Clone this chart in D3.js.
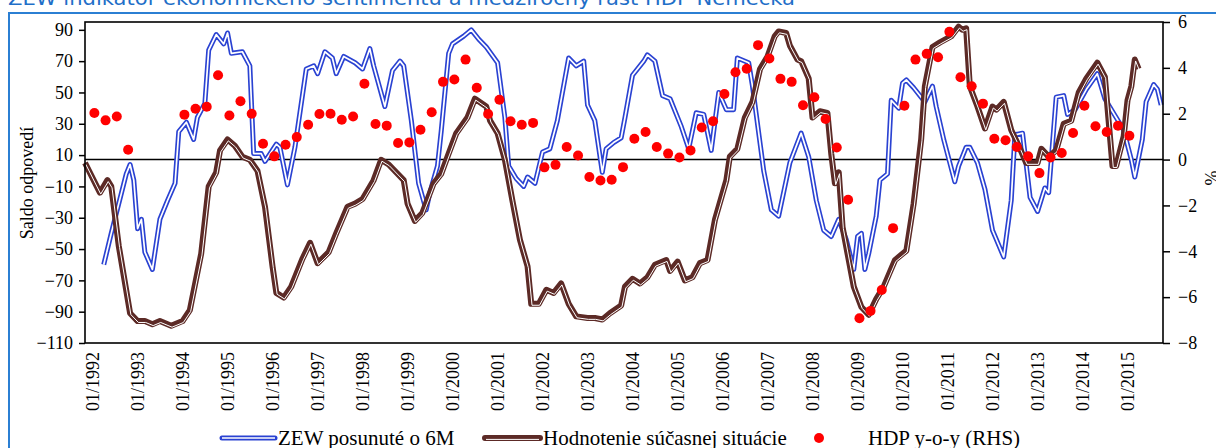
<!DOCTYPE html>
<html><head><meta charset="utf-8">
<script src="https://cdn.jsdelivr.net/npm/d3@7"></script>
<style>html,body{margin:0;padding:0;background:#fff;overflow:hidden}</style>
</head><body><svg id="c" width="1216" height="448"></svg>
<script>
// ---- data ----
const zewDates = ["1992-04","1992-06","1992-10","1992-11","1992-12","1993-01","1993-02","1993-03","1993-05","1993-07","1993-09","1993-11","1993-12","1994-02","1994-04","1994-05","1994-07","1994-08","1994-10","1994-12","1995-01","1995-02","1995-05","1995-07","1995-08","1995-10","1995-11","1996-02","1996-03","1996-05","1996-07","1996-10","1996-12","1997-01","1997-03","1997-05","1997-06","1997-08","1997-11","1998-01","1998-03","1998-04","1998-07","1998-09","1998-11","1998-12","1999-02","1999-04","1999-06","1999-07","1999-09","1999-10","1999-12","2000-01","2000-04","2000-06","2000-08","2000-10","2001-01","2001-03","2001-04","2001-06","2001-08","2001-09","2001-11","2002-01","2002-03","2002-05","2002-08","2002-10","2002-12","2003-01","2003-03","2003-05","2003-06","2003-08","2003-10","2003-11","2004-01","2004-04","2004-05","2004-07","2004-09","2004-11","2005-02","2005-04","2005-06","2005-08","2005-10","2005-12","2006-02","2006-04","2006-05","2006-08","2006-09","2006-12","2007-02","2007-04","2007-07","2007-10","2007-12","2008-02","2008-04","2008-06","2008-08","2008-10","2008-12","2009-01","2009-02","2009-03","2009-04","2009-06","2009-07","2009-09","2009-10","2009-12","2010-01","2010-02","2010-04","2010-07","2010-09","2010-10","2010-12","2011-03","2011-04","2011-06","2011-07","2011-09","2011-11","2012-01","2012-04","2012-06","2012-07","2012-09","2012-11","2013-01","2013-03","2013-04","2013-06","2013-08","2013-09","2013-11","2014-02","2014-05","2014-07","2014-10","2014-12","2015-02","2015-03","2015-05","2015-06","2015-08","2015-09","2015-10"];
const zewValues = [-60,-40,-2,4,-6,-37,-31,-52,-63,-31,-19,-8,25,31,20,34,43,77,87,81,88,75,76,67,11,11,6,17,15,-9,15,65,67,62,76,72,62,73,69,65,78,67,41,64,70,67,32,-8,-25,-14,3,25,75,81,86,90,84,79,69,34,3,-5,-10,-4,-8,12,14,32,72,67,70,42,32,-1,14,18,21,34,61,70,74,70,48,46,28,14,37,36,13,50,39,39,72,69,54,0,-25,-29,5,24,9,-19,-38,-42,-31,-44,-63,-42,-40,-63,-53,-29,-6,-2,45,40,56,58,53,44,54,41,20,-7,3,15,15,5,-12,-38,-55,-19,23,24,-17,-26,-11,-14,47,48,36,39,52,62,46,34,26,7,-4,20,44,55,52,42];

const currDates = ["1991-11","1992-03","1992-05","1992-06","1992-08","1992-11","1993-01","1993-03","1993-05","1993-07","1993-10","1994-01","1994-03","1994-06","1994-08","1994-10","1994-11","1995-01","1995-03","1995-05","1995-07","1995-09","1995-11","1996-01","1996-02","1996-04","1996-06","1996-09","1996-11","1997-01","1997-04","1997-06","1997-09","1997-11","1998-01","1998-04","1998-06","1998-08","1998-12","1999-01","1999-03","1999-05","1999-08","1999-10","1999-12","2000-02","2000-05","2000-07","2000-10","2000-11","2001-01","2001-03","2001-05","2001-07","2001-09","2001-10","2001-12","2002-02","2002-04","2002-06","2002-08","2002-10","2003-01","2003-03","2003-05","2003-07","2003-10","2003-11","2004-01","2004-03","2004-05","2004-07","2004-10","2004-11","2005-01","2005-03","2005-05","2005-07","2005-09","2005-11","2006-02","2006-03","2006-05","2006-07","2006-09","2006-11","2007-01","2007-03","2007-04","2007-06","2007-07","2007-09","2007-10","2007-12","2008-01","2008-03","2008-05","2008-06","2008-07","2008-08","2008-09","2008-12","2009-02","2009-04","2009-06","2009-08","2009-11","2010-02","2010-04","2010-06","2010-07","2010-09","2010-11","2011-02","2011-04","2011-05","2011-06","2011-07","2011-09","2011-11","2012-01","2012-02","2012-04","2012-06","2012-08","2012-10","2013-01","2013-02","2013-04","2013-06","2013-08","2013-10","2013-12","2014-02","2014-05","2014-07","2014-09","2014-10","2014-12","2015-01","2015-02","2015-03","2015-04"];
const currValues = [5,-14,-6,-10,-48,-91,-96,-96,-98,-96,-99,-96,-89,-53,-10,-1,13,20,16,9,7,0,-23,-61,-78,-81,-74,-56,-46,-59,-52,-40,-23,-21,-18,-6,7,4,-6,-21,-32,-27,-8,-2,11,24,34,46,41,32,24,7,-19,-44,-61,-85,-85,-76,-78,-72,-85,-93,-94,-94,-95,-91,-86,-74,-69,-72,-68,-60,-57,-64,-58,-70,-68,-59,-57,-31,-6,9,14,34,44,65,73,86,89,88,80,71,70,59,34,38,37,11,-8,-1,-36,-74,-87,-92,-82,-74,-57,-51,-21,20,54,79,82,86,92,90,91,54,41,27,41,39,44,26,16,5,5,14,9,13,30,32,50,59,69,60,3,3,22,45,54,71,65];

const gdpDates = ["1992-01","1992-04","1992-07","1992-10","1994-01","1994-04","1994-07","1994-10","1995-01","1995-04","1995-07","1995-10","1996-01","1996-04","1996-07","1996-10","1997-01","1997-04","1997-07","1997-10","1998-01","1998-04","1998-07","1998-10","1999-01","1999-04","1999-07","1999-10","2000-01","2000-04","2000-07","2000-10","2001-01","2001-04","2001-07","2001-10","2002-01","2002-04","2002-07","2002-10","2003-01","2003-04","2003-07","2003-10","2004-01","2004-04","2004-07","2004-10","2005-01","2005-04","2005-07","2005-10","2006-01","2006-04","2006-07","2006-10","2007-01","2007-04","2007-07","2007-10","2008-01","2008-04","2008-07","2008-10","2009-01","2009-04","2009-07","2009-10","2010-01","2010-04","2010-07","2010-10","2011-01","2011-04","2011-07","2011-10","2012-01","2012-04","2012-07","2012-10","2013-01","2013-04","2013-07","2013-10","2014-01","2014-04","2014-07","2014-10","2015-01"];
const gdpValues = [2.03,1.71,1.88,0.43,1.96,2.22,2.30,3.68,1.92,2.54,2.00,0.69,0.14,0.65,0.98,1.52,1.99,2.00,1.74,1.88,3.31,1.55,1.48,0.72,0.75,1.30,2.06,3.39,3.49,4.36,3.13,1.99,2.61,1.67,1.52,1.60,-0.34,-0.23,0.55,0.18,-0.76,-0.91,-0.88,-0.33,0.91,1.20,0.55,0.26,0.09,0.40,1.40,1.67,2.86,3.81,3.96,4.99,4.41,3.52,3.39,2.37,2.72,1.77,0.53,-1.75,-6.92,-6.60,-5.69,-2.99,2.35,4.36,4.61,4.46,5.57,3.59,3.20,2.44,0.91,0.84,0.55,0.14,-0.59,0.09,0.29,1.16,2.35,1.45,1.20,1.48,1.04];

const xTickYears = d3.range(1992, 2016);
const leftTicks = [-110,-90,-70,-50,-30,-10,10,30,50,70,90];
const rightTicks = [-8,-6,-4,-2,0,2,4,6];
const seriesNames = ["ZEW posunuté o 6M","Hodnotenie súčasnej situácie","HDP y-o-y (RHS)"];
const titleText = "ZEW indikátor ekonomického sentimentu a medziročný rast HDP Nemecka";

// ---- layout ----
const P = {left:85, right:1163, top:22, bottom:343};
const BLUE = "#2a42d2", BROWN = "#5c2a26", RED = "#ff0000";
const SERIF = "'Liberation Serif','Times New Roman',serif";
const parse = d3.timeParse("%Y-%m");
const svg = d3.select("#c");

const x = d3.scaleTime().domain([new Date(1991,10,1), new Date(2015,9,16)]).range([P.left, P.right]);
const yL = d3.scaleLinear().domain([-110,95]).range([P.bottom, P.top]);
const yR = d3.scaleLinear().domain([-8,6]).range([P.bottom, P.top]);

// title and frame
svg.append("text").attr("x",8).attr("y",5).attr("font-family","'DejaVu Sans',Verdana,sans-serif")
  .attr("font-size",19).attr("fill","#1f6fc8").attr("textLength",787).attr("lengthAdjust","spacingAndGlyphs").text(titleText);
svg.append("rect").attr("x",9).attr("y",13).attr("width",1300).attr("height",600)
  .attr("fill","none").attr("stroke","#2b7fd3").attr("stroke-width",2);

// zero line (RHS 0)
svg.append("line").attr("x1",P.left).attr("x2",P.right).attr("y1",yR(0)).attr("y2",yR(0))
  .attr("stroke","#000").attr("stroke-width",1.6);

// lines
const zew = zewDates.map((d,i)=>({d:parse(d), v:zewValues[i]}));
const curr = currDates.map((d,i)=>({d:parse(d), v:currValues[i]}));
const lineL = d3.line().x(p=>x(p.d)).y(p=>yL(p.v));

const plot = svg.append("g");
plot.append("path").datum(zew).attr("d",lineL).attr("fill","none").attr("stroke",BLUE).attr("stroke-width",5).attr("stroke-linejoin","round");
plot.append("path").datum(zew).attr("d",lineL).attr("fill","none").attr("stroke","#fff").attr("stroke-width",1.7).attr("stroke-linejoin","round");
plot.append("path").datum(curr).attr("d",lineL).attr("fill","none").attr("stroke",BROWN).attr("stroke-width",6).attr("stroke-linejoin","round");
plot.append("path").datum(curr).attr("d",lineL).attr("fill","none").attr("stroke","#fff").attr("stroke-width",1).attr("stroke-linejoin","round")
  .attr("transform","translate(0.8,1.4)");

// dots
plot.selectAll("circle.gdp").data(gdpDates.map((d,i)=>({d:d3.timeDay.offset(parse(d),15), v:gdpValues[i]})))
  .join("circle").attr("class","gdp").attr("cx",p=>x(p.d)).attr("cy",p=>yR(p.v)).attr("r",5).attr("fill",RED);

// plot border
svg.append("rect").attr("x",P.left).attr("y",P.top).attr("width",P.right-P.left).attr("height",P.bottom-P.top)
  .attr("fill","none").attr("stroke","#000").attr("stroke-width",1.6);

// axes
const gl = svg.append("g").attr("transform",`translate(${P.left},0)`)
  .call(d3.axisLeft(yL).tickValues(leftTicks).tickSize(6).tickPadding(6));
const gr = svg.append("g").attr("transform",`translate(${P.right},0)`)
  .call(d3.axisRight(yR).tickValues(rightTicks).tickSize(7).tickPadding(8));
const gx = svg.append("g").attr("transform",`translate(0,${P.bottom})`)
  .call(d3.axisBottom(x).tickValues(xTickYears.map(y=>new Date(y,0,1))).tickSize(0).tickFormat(d3.timeFormat("%m/%Y")));
[gl,gr,gx].forEach(g=>{
  g.select(".domain").remove();
  g.selectAll("line").attr("stroke","#000").attr("stroke-width",1.5);
  g.selectAll("text").attr("font-family",SERIF).attr("font-size",18).attr("fill","#000");
});
gx.selectAll("text").attr("transform","rotate(-90)").attr("text-anchor","end")
  .attr("x",-9).attr("y",0).attr("dy","0.33em");

// axis titles
svg.append("text").attr("transform","translate(33,183) rotate(-90)").attr("text-anchor","middle")
  .attr("font-family",SERIF).attr("font-size",18).text("Saldo odpovedí");
svg.append("text").attr("transform","translate(1218,178) rotate(-90)").attr("text-anchor","middle")
  .attr("font-family",SERIF).attr("font-size",18).text("%");

// legend
const lg = svg.append("g").attr("font-family",SERIF).attr("font-size",21);
const ly = 438;
lg.append("line").attr("x1",222).attr("x2",275).attr("y1",ly).attr("y2",ly).attr("stroke",BLUE).attr("stroke-width",5).attr("stroke-linecap","round");
lg.append("line").attr("x1",222).attr("x2",275).attr("y1",ly).attr("y2",ly).attr("stroke","#fff").attr("stroke-width",1.7);
lg.append("text").attr("x",278).attr("y",ly+7).text(seriesNames[0]);
lg.append("line").attr("x1",485).attr("x2",540).attr("y1",ly).attr("y2",ly).attr("stroke",BROWN).attr("stroke-width",6).attr("stroke-linecap","round");
lg.append("line").attr("x1",486).attr("x2",539).attr("y1",ly+1.4).attr("y2",ly+1.4).attr("stroke","#fff").attr("stroke-width",1);
lg.append("text").attr("x",543).attr("y",ly+7).text(seriesNames[1]);
lg.append("circle").attr("cx",819).attr("cy",ly).attr("r",5).attr("fill",RED);
lg.append("text").attr("x",868).attr("y",ly+7).text(seriesNames[2]);
</script></body></html>
